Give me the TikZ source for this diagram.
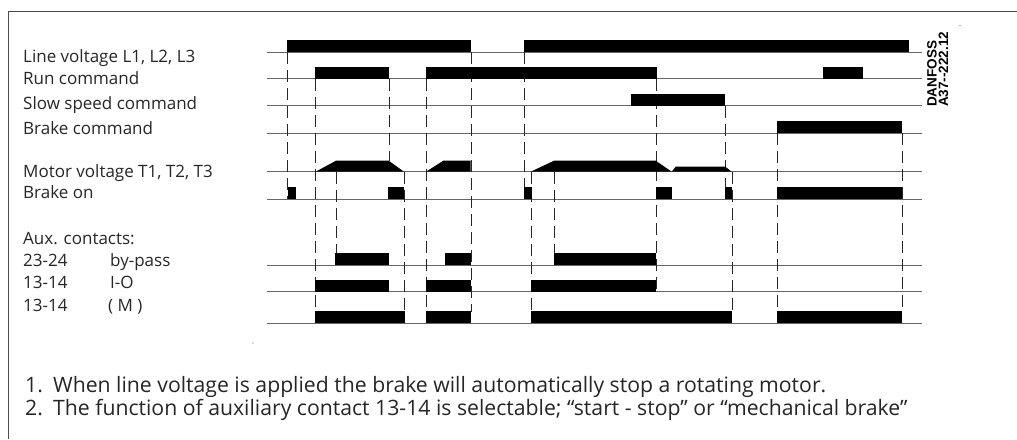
\documentclass[tikz,border=0pt]{standalone}
\usepackage{fontspec}
\setmainfont{Open Sans}
\newfontfamily\codefont{Liberation Sans}
\newcommand\pulse[3]{\fill[pulsefill] (#1,#3) rectangle (#2,#3-12);}
\begin{document}
\begin{tikzpicture}[x=1pt,y=-1pt,
  baseline/.style={draw=black!60, line width=0.9pt},
  guide/.style={draw=black!85, line width=0.8pt, dash pattern=on 12pt off 6pt},
  pulsefill/.style={fill=black},
  frameline/.style={draw=black!70, line width=0.9pt},
  lbl/.style={anchor=base west, inner sep=0pt, font=\fontsize{17}{20}\selectfont, text=black!85},
  note/.style={anchor=base west, inner sep=0pt, font=\fontsize{21.2}{24}\selectfont, text=black!85}]
\useasboundingbox (0,0) rectangle (1017,439);
% frame
\draw[frameline] (1017,11) -- (8,11) -- (8,439);
% labels
\node[lbl] (lL) at (23,62) {Line voltage L1, L2, L3};
\node[lbl] (lR) at (23,84) {Run command};
\node[lbl] (lS) at (23,109) {Slow speed command};
\node[lbl] (lB) at (23,134.5) {Brake command};
\node[lbl] (lM) at (23,177) {Motor voltage T1, T2, T3};
\node[lbl] (lO) at (23,198) {Brake on};
\node[lbl] (lA) at (23,244) {Aux. contacts:};
\node[lbl] (lA1) at (23,266) {23-24};
\node[lbl] (lA1t) at (110,266) {by-pass};
\node[lbl] (lA2) at (23,288.5) {13-14};
\node[lbl] (lA2t) at (110,288.5) {I-O};
\node[lbl] (lA3) at (23,311) {13-14};
\node[lbl] (lA3t) at (108,311) {( M )};
\node[note] (n1) at (25,392) {1.};
\node[note] (n1t) at (53,392) {When line voltage is applied the brake will automatically stop a rotating motor.};
\node[note] (n2) at (25,415) {2.};
\node[note] (n2t) at (53,415) {The function of auxiliary contact 13-14 is selectable; \char"201Cstart - stop\char"201D\ or \char"201Cmechanical brake\char"201D};
\node[rotate=90, anchor=north west, align=left, inner sep=0pt, font=\codefont\bfseries\fontsize{13.5}{11.5}\selectfont] (code) at (927,107) {DANFOSS\\A37--222.12};
% baselines
\foreach \y in {52,78.5,105.7,133.3,171.7,199,265,291.7,323.3}
  \draw[baseline] (267,\y) -- (922,\y);
% dashed guides
\draw[guide] (287,52) -- (287,199);
\draw[guide] (315,78.5) -- (315,311.5);
\draw[guide] (336,171.7) -- (336,253);
\draw[guide] (389,78.5) -- (389,160.7);
\draw[guide] (404,171.7) -- (404,311.5);
\draw[guide] (426,78.5) -- (426,311.5);
\draw[guide] (471,52) -- (471,311.5);
\draw[guide] (524,52) -- (524,187);
\draw[guide] (531,171.7) -- (531,311.5);
\draw[guide] (554,171.7) -- (554,253);
\draw[guide] (656,78.5) -- (656,291.7);
\draw[guide] (725,105.7) -- (725,187);
\draw[guide] (732,171.7) -- (732,311.5);
\draw[guide] (777,133.3) -- (777,311.5);
\draw[guide] (902,133.3) -- (902,311.5);
% line voltage
\pulse{286.7}{471}{52}
\pulse{524}{909.3}{52}
% run
\pulse{315}{388.7}{78.5}
\pulse{426}{656.7}{78.5}
\pulse{822.7}{862.7}{78.5}
% slow
\pulse{630.7}{725.3}{105.7}
% brake command
\pulse{776.7}{901.7}{133.3}
% motor voltage
\fill[pulsefill] (315.7,171.7) -- (336,160.7) -- (388.7,160.7) -- (404,171.7) -- cycle;
\fill[pulsefill] (426,171.7) -- (443.3,160.7) -- (470.5,160.7) -- (470.5,171.7) -- cycle;
\fill[pulsefill] (530.7,171.7) -- (554,160.7) -- (655.7,160.7) -- (671.7,171.7) -- cycle;
\fill[pulsefill] (671.7,171.7) -- (675.7,166.7) -- (725.3,166.7) -- (731.7,171.7) -- cycle;
% brake on
\pulse{287.7}{296}{199}
\pulse{388.3}{404}{199}
\pulse{524}{531.7}{199}
\pulse{656}{671.7}{199}
\pulse{725}{732.3}{199}
\pulse{776.7}{901.7}{199}
% by-pass
\pulse{335}{389.3}{265}
\pulse{445}{470.7}{265}
\pulse{554}{656}{265}
% I-O
\pulse{315}{389.3}{291.7}
\pulse{426}{470.7}{291.7}
\pulse{531}{656}{291.7}
% M
\pulse{314.7}{404.7}{323.3}
\pulse{426}{470.7}{323.3}
\pulse{531}{732}{323.3}
\pulse{776.7}{901.7}{323.3}
% stray dots
\fill[black!60] (960,25.7) circle (0.6);
\fill[black!60] (253,343) circle (0.6);
\end{tikzpicture}
\end{document}
